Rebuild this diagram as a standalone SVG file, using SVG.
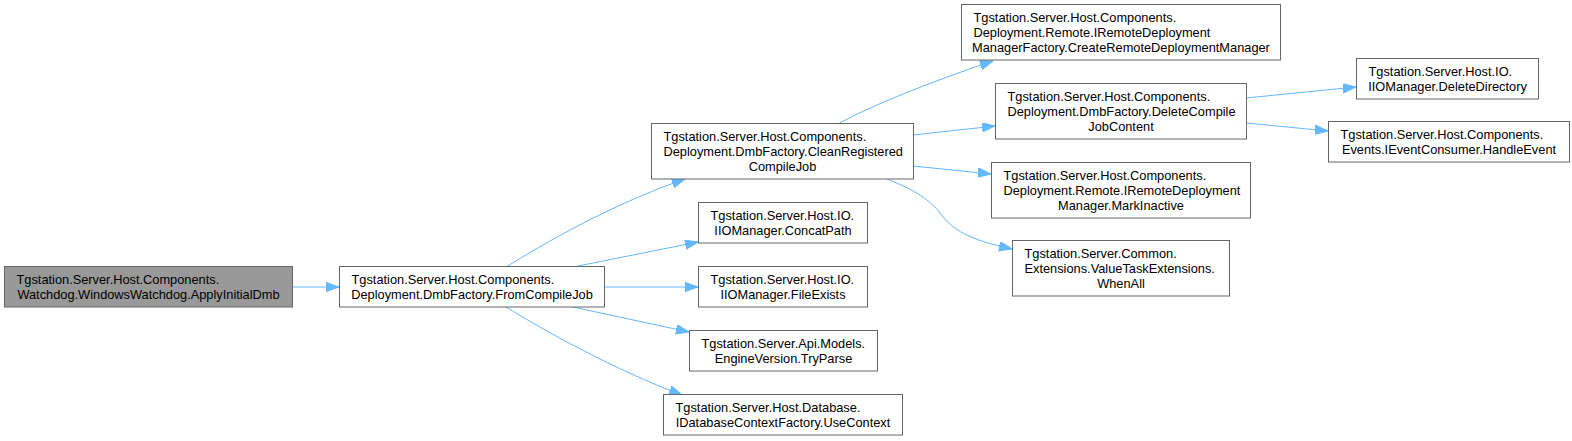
<svg xmlns="http://www.w3.org/2000/svg" width="1572" height="441" viewBox="0 0 1572 441">
<style>
.n rect{fill:#ffffff;stroke:#666666;stroke-width:1}
.n.root rect{fill:#999999}
.n text{font-family:"Liberation Sans",Arial,Helvetica,sans-serif;font-size:12.8px;fill:#000000}
.c{text-anchor:middle}
.e path{fill:none;stroke:#63b8ff;stroke-width:1;marker-end:url(#ah)}
</style>
<defs>
<marker id="ah" markerUnits="userSpaceOnUse" markerWidth="14" markerHeight="10" refX="13" refY="4.7" orient="auto">
<path d="M0,0 L13,4.7 L0,9.4 z" fill="#63b8ff" stroke="#63b8ff" stroke-width="1"/>
</marker>
</defs>
<rect x="0" y="0" width="1572" height="441" fill="#ffffff"/>
<g id="connectors" class="e">
<path d="M292.5,287 L339,287"/>
<path d="M506,267 C545,243 610,205 685,179"/>
<path d="M573,267 L698,242"/>
<path d="M604.5,287 L698,287"/>
<path d="M573,307 L689,332"/>
<path d="M506,307 C545,331 615,370 682,395"/>
<path d="M838,124 C868,107 930,82 993,61"/>
<path d="M913,135 L995,126"/>
<path d="M913,166 L991,174"/>
<path d="M887,179 C915,190 930,200 940,213 C952,230 970,240 1012,249"/>
<path d="M1246,98 L1356,87"/>
<path d="M1246,123 L1328,131"/>
</g>
<g id="n1" class="n root">
<rect x="4.5" y="266.5" width="288" height="40.5"/>
<text x="16.5" y="283.5">Tgstation.Server.Host.Components.</text>
<text class="c" x="148.5" y="298.5">Watchdog.WindowsWatchdog.ApplyInitialDmb</text>
</g>
<g id="n2" class="n">
<rect x="339.5" y="266.5" width="265" height="40.5"/>
<text x="351.5" y="283.5">Tgstation.Server.Host.Components.</text>
<text class="c" x="472" y="298.5">Deployment.DmbFactory.FromCompileJob</text>
</g>
<g id="n3" class="n">
<rect x="651.5" y="123.5" width="262" height="55.5"/>
<text x="663.5" y="140.5">Tgstation.Server.Host.Components.</text>
<text x="663.5" y="155.5">Deployment.DmbFactory.CleanRegistered</text>
<text class="c" x="782.5" y="170.5">CompileJob</text>
</g>
<g id="n4" class="n">
<rect x="961.5" y="4.5" width="319" height="55.5"/>
<text x="973.5" y="21.5">Tgstation.Server.Host.Components.</text>
<text x="973.5" y="36.5">Deployment.Remote.IRemoteDeployment</text>
<text class="c" x="1121" y="51.5">ManagerFactory.CreateRemoteDeploymentManager</text>
</g>
<g id="n5" class="n">
<rect x="995.5" y="83.5" width="251" height="55.5"/>
<text x="1007.5" y="100.5">Tgstation.Server.Host.Components.</text>
<text x="1007.5" y="115.5">Deployment.DmbFactory.DeleteCompile</text>
<text class="c" x="1121" y="130.5">JobContent</text>
</g>
<g id="n6" class="n">
<rect x="991.5" y="162.5" width="259" height="55.5"/>
<text x="1003.5" y="179.5">Tgstation.Server.Host.Components.</text>
<text x="1003.5" y="194.5">Deployment.Remote.IRemoteDeployment</text>
<text class="c" x="1121" y="209.5">Manager.MarkInactive</text>
</g>
<g id="n7" class="n">
<rect x="1012.5" y="240.5" width="217" height="55.5"/>
<text x="1024.5" y="257.5">Tgstation.Server.Common.</text>
<text x="1024.5" y="272.5">Extensions.ValueTaskExtensions.</text>
<text class="c" x="1121" y="287.5">WhenAll</text>
</g>
<g id="n8" class="n">
<rect x="698.5" y="202.5" width="169" height="40.5"/>
<text x="710.5" y="219.5">Tgstation.Server.Host.IO.</text>
<text class="c" x="783" y="234.5">IIOManager.ConcatPath</text>
</g>
<g id="n9" class="n">
<rect x="698.5" y="266.5" width="169" height="40.5"/>
<text x="710.5" y="283.5">Tgstation.Server.Host.IO.</text>
<text class="c" x="783" y="298.5">IIOManager.FileExists</text>
</g>
<g id="n10" class="n">
<rect x="689.5" y="330.5" width="188" height="40.5"/>
<text x="701.5" y="347.5">Tgstation.Server.Api.Models.</text>
<text class="c" x="783.5" y="362.5">EngineVersion.TryParse</text>
</g>
<g id="n11" class="n">
<rect x="663.5" y="394.5" width="239" height="40.5"/>
<text x="675.5" y="411.5">Tgstation.Server.Host.Database.</text>
<text class="c" x="783" y="426.5">IDatabaseContextFactory.UseContext</text>
</g>
<g id="n12" class="n">
<rect x="1356.5" y="58.5" width="182" height="40.5"/>
<text x="1368.5" y="75.5">Tgstation.Server.Host.IO.</text>
<text class="c" x="1447.5" y="90.5">IIOManager.DeleteDirectory</text>
</g>
<g id="n13" class="n">
<rect x="1328.5" y="121.5" width="241" height="40.5"/>
<text x="1340.5" y="138.5">Tgstation.Server.Host.Components.</text>
<text class="c" x="1449" y="153.5">Events.IEventConsumer.HandleEvent</text>
</g>
</svg>
